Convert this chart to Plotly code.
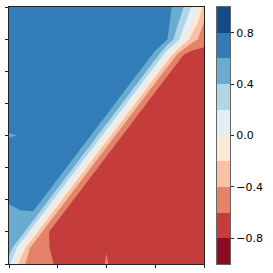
import plotly.graph_objects as go

# grid coordinates
x_vals = [0.0, 0.25, 0.5, 0.75, 1.0, 1.25, 1.5, 1.75, 2.0, 2.25, 2.5, 2.75, 3.0, 3.25, 3.5, 3.75, 4.0]
y_vals = [0.0, 0.5, 1.0, 1.5, 2.0, 2.5, 3.0, 3.5, 4.0, 4.5, 5.0, 5.5, 6.0, 6.5, 7.0, 7.5, 8.0]

# field values, row per y (bottom to top), column per x
z_rows = [
    [0.25, -0.35, -0.50, -0.50, -0.65, -0.70, -0.70, -0.72, -0.58, -0.72, -0.70, -0.70, -0.70, -0.70, -0.70, -0.70, -0.70],
    [0.55, 0.00, -0.55, -0.55, -0.70, -0.70, -0.70, -0.70, -0.61, -0.70, -0.70, -0.70, -0.70, -0.70, -0.70, -0.70, -0.70],
    [0.50, 0.55, 0.00, -0.55, -0.72, -0.70, -0.70, -0.70, -0.70, -0.70, -0.70, -0.70, -0.70, -0.70, -0.70, -0.70, -0.70],
    [0.52, 0.55, 0.55, 0.00, -0.55, -0.72, -0.70, -0.70, -0.70, -0.70, -0.70, -0.70, -0.70, -0.70, -0.70, -0.70, -0.70],
    [0.63, 0.70, 0.72, 0.55, 0.00, -0.55, -0.72, -0.70, -0.70, -0.70, -0.70, -0.70, -0.70, -0.70, -0.70, -0.70, -0.70],
    [0.70, 0.70, 0.70, 0.72, 0.55, 0.00, -0.55, -0.72, -0.70, -0.70, -0.70, -0.70, -0.70, -0.70, -0.70, -0.70, -0.70],
    [0.70, 0.70, 0.70, 0.70, 0.72, 0.55, 0.00, -0.55, -0.72, -0.70, -0.70, -0.70, -0.70, -0.70, -0.70, -0.70, -0.70],
    [0.75, 0.70, 0.70, 0.70, 0.70, 0.72, 0.55, 0.00, -0.55, -0.72, -0.70, -0.70, -0.70, -0.70, -0.70, -0.70, -0.70],
    [0.58, 0.61, 0.70, 0.70, 0.70, 0.70, 0.72, 0.55, 0.00, -0.55, -0.72, -0.70, -0.70, -0.70, -0.70, -0.70, -0.70],
    [0.75, 0.70, 0.70, 0.70, 0.70, 0.70, 0.70, 0.72, 0.55, 0.00, -0.55, -0.72, -0.70, -0.70, -0.70, -0.70, -0.70],
    [0.70, 0.70, 0.70, 0.70, 0.70, 0.70, 0.70, 0.70, 0.72, 0.55, 0.00, -0.55, -0.72, -0.70, -0.70, -0.70, -0.70],
    [0.70, 0.70, 0.70, 0.70, 0.70, 0.70, 0.70, 0.70, 0.70, 0.72, 0.55, 0.00, -0.55, -0.72, -0.70, -0.70, -0.70],
    [0.70, 0.70, 0.70, 0.70, 0.70, 0.70, 0.70, 0.70, 0.70, 0.70, 0.72, 0.55, 0.00, -0.55, -0.72, -0.70, -0.70],
    [0.70, 0.70, 0.70, 0.70, 0.70, 0.70, 0.70, 0.70, 0.70, 0.70, 0.70, 0.72, 0.55, 0.00, -0.55, -0.72, -0.70],
    [0.70, 0.70, 0.70, 0.70, 0.70, 0.70, 0.70, 0.70, 0.70, 0.70, 0.70, 0.70, 0.72, 0.60, 0.20, -0.30, -0.50],
    [0.70, 0.70, 0.70, 0.70, 0.70, 0.70, 0.70, 0.70, 0.70, 0.70, 0.70, 0.70, 0.70, 0.65, 0.37, 0.00, -0.42],
    [0.70, 0.70, 0.70, 0.70, 0.70, 0.70, 0.70, 0.70, 0.70, 0.70, 0.70, 0.70, 0.70, 0.65, 0.50, 0.18, -0.25],
]

x_ticks = [0, 1, 2, 3, 4]
y_ticks = [0, 1, 2, 3, 4, 5, 6, 7, 8]

levels_start, levels_end, levels_step = -1.0, 1.0, 0.2
band_colors = ["#8c0c25", "#c43c3c", "#e58368", "#f8c0a4", "#fae9d7",
               "#e4eef3", "#b1d5e7", "#6aacd0", "#327cb7", "#134b86"]
band_centers = [-0.9, -0.7, -0.5, -0.3, -0.1, 0.1, 0.3, 0.5, 0.7, 0.9]
cbar_tickvals = [-0.8, -0.4, 0.0, 0.4, 0.8]
cbar_ticktext = ["\u22120.8", "\u22120.4", "0.0", "0.4", "0.8"]

n = len(band_colors)
# contour fill colour is looked up at level + step/2 on a domain of [start-step/2, end+step/2]
contour_cs = []
for k, c in enumerate(band_colors):
    lo = 0.0 if k == 0 else (k + 0.5) / (n + 1)
    hi = 1.0 if k == n - 1 else (k + 1.5) / (n + 1)
    contour_cs.append([lo, c])
    contour_cs.append([hi, c])

heat_cs = []
for k, c in enumerate(band_colors):
    heat_cs.append([k / n, c])
    heat_cs.append([(k + 1) / n, c])

fig = go.Figure()
fig.add_trace(go.Contour(
    x=x_vals, y=y_vals, z=z_rows,
    colorscale=contour_cs, zmin=levels_start, zmax=levels_end,
    autocontour=False,
    contours=dict(start=levels_start, end=levels_end, size=levels_step,
                  coloring="fill", showlines=False),
    line=dict(width=0, smoothing=0),
    showscale=False, hoverinfo="skip",
    xaxis="x", yaxis="y",
))
fig.add_trace(go.Heatmap(
    x=[0], y=band_centers, z=[[v] for v in band_centers],
    colorscale=heat_cs, zmin=-1, zmax=1, showscale=False, hoverinfo="skip",
    xaxis="x2", yaxis="y2",
))

axis_line = "#222222"
fig.update_layout(
    width=273, height=273,
    margin=dict(l=8, r=43, t=6, b=8),
    paper_bgcolor="white", plot_bgcolor="white",
    font=dict(family="DejaVu Sans", size=11, color="black"),
    showlegend=False,
    xaxis=dict(domain=[0, 196 / 222], range=[0, 4], tickvals=x_ticks, showticklabels=False,
               ticks="outside", ticklen=3, tickwidth=1, tickcolor=axis_line,
               showline=True, linecolor=axis_line, linewidth=1, mirror=True,
               showgrid=False, zeroline=False),
    yaxis=dict(range=[0, 8], tickvals=y_ticks, showticklabels=False,
               ticks="outside", ticklen=3, tickwidth=1, tickcolor=axis_line,
               showline=True, linecolor=axis_line, linewidth=1, mirror=True,
               showgrid=False, zeroline=False),
    xaxis2=dict(domain=[209 / 222, 1], range=[-0.5, 0.5], showticklabels=False, ticks="",
                showline=True, linecolor="#666666", linewidth=1, mirror=True,
                showgrid=False, zeroline=False, anchor="y2"),
    yaxis2=dict(range=[-1, 1], tickvals=cbar_tickvals, ticktext=cbar_ticktext,
                side="right", ticks="outside", ticklen=3, tickwidth=1, tickcolor=axis_line,
                showline=True, linecolor="#666666", linewidth=1, mirror=True,
                showgrid=False, zeroline=False, anchor="x2",
                tickfont=dict(family="DejaVu Sans", size=11, color="black")),
)

fig.write_html("out.html", config={"displayModeBar": False, "staticPlot": True},
               post_script="document.body.style.margin='0px';")
